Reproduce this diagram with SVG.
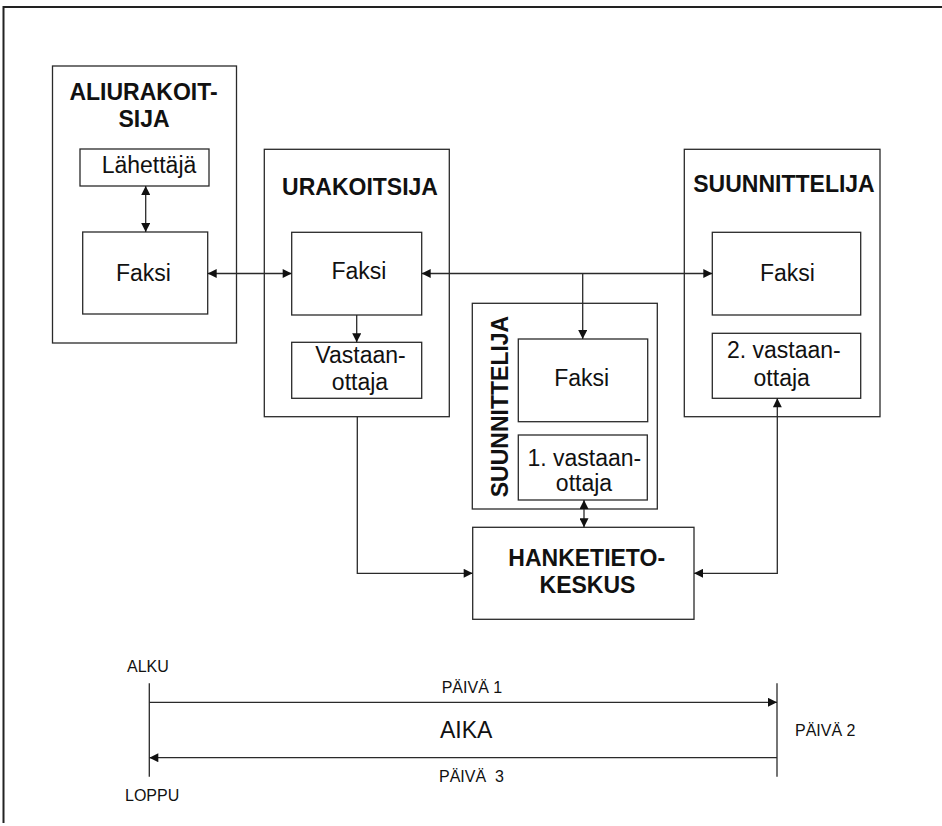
<svg xmlns="http://www.w3.org/2000/svg" width="942" height="826" viewBox="0 0 942 826">
<style>
.box{fill:#fff;stroke:#2a2a2a;stroke-width:1.3}
.ln{fill:none;stroke:#2a2a2a;stroke-width:1.3}
.t{font-family:"Liberation Sans",Arial,sans-serif;font-size:23px;fill:#111;text-anchor:middle}
.b{font-weight:bold}
.s{font-family:"Liberation Sans",Arial,sans-serif;font-size:16px;fill:#111}
</style>
<defs>
<marker id="ae" viewBox="0 0 10 10" refX="10" refY="5" markerWidth="10" markerHeight="9" markerUnits="userSpaceOnUse" orient="auto">
<path d="M0,0 L10,5 L0,10 z" fill="#111"/>
</marker>
<marker id="as" viewBox="0 0 10 10" refX="0" refY="5" markerWidth="10" markerHeight="9" markerUnits="userSpaceOnUse" orient="auto">
<path d="M10,0 L0,5 L10,10 z" fill="#111"/>
</marker>
</defs>
<path d="M3.5 823 V7 H942" fill="none" stroke="#222" stroke-width="2"/>
<g id="aliurakoitsija">
<rect class="box" x="52.5" y="66" width="184" height="277"/>
<text class="t b" x="143.5" y="100">ALIURAKOIT-</text>
<text class="t b" x="144" y="127">SIJA</text>
</g>
<g id="ali-lahettaja">
<rect class="box" x="80" y="149" width="129" height="37"/>
<text class="t" x="149" y="173">Lähettäjä</text>
</g>
<g id="ali-faksi">
<rect class="box" x="82.7" y="232" width="125" height="82"/>
<text class="t" x="143.5" y="280.5">Faksi</text>
</g>
<g id="urakoitsija">
<rect class="box" x="264.3" y="149.3" width="185" height="267.4"/>
<text class="t b" x="360" y="195">URAKOITSIJA</text>
</g>
<g id="ura-faksi">
<rect class="box" x="291.7" y="232.3" width="130" height="82.7"/>
<text class="t" x="359" y="278.5">Faksi</text>
</g>
<g id="ura-vastaanottaja">
<rect class="box" x="291.7" y="342.3" width="130" height="56"/>
<text class="t" x="360.5" y="363.3">Vastaan-</text>
<text class="t" x="360" y="390">ottaja</text>
</g>
<g id="suunnittelija-1">
<rect class="box" x="472.3" y="303.3" width="185" height="205.7"/>
<text class="t b" transform="translate(508 406.5) rotate(-90)" x="0" y="0">SUUNNITTELIJA</text>
</g>
<g id="s1-faksi">
<rect class="box" x="518.3" y="339" width="129.4" height="82.7"/>
<text class="t" x="581.7" y="386">Faksi</text>
</g>
<g id="s1-vastaanottaja">
<rect class="box" x="518.3" y="435" width="129" height="65"/>
<text class="t" x="584.3" y="466">1. vastaan-</text>
<text class="t" x="584" y="491">ottaja</text>
</g>
<g id="suunnittelija-2">
<rect class="box" x="684.3" y="149.3" width="195.7" height="267.4"/>
<text class="t b" x="784" y="192">SUUNNITTELIJA</text>
</g>
<g id="s2-faksi">
<rect class="box" x="712.3" y="232.3" width="148.4" height="82.7"/>
<text class="t" x="787.5" y="280.7">Faksi</text>
</g>
<g id="s2-vastaanottaja">
<rect class="box" x="712.3" y="333.3" width="148.4" height="65"/>
<text class="t" x="783.8" y="358.3">2. vastaan-</text>
<text class="t" x="781.7" y="386">ottaja</text>
</g>
<g id="hanketietokeskus">
<rect class="box" x="472.7" y="527.3" width="221.3" height="92"/>
<text class="t b" x="586.7" y="565.7">HANKETIETO-</text>
<text class="t b" x="587.5" y="592.7">KESKUS</text>
</g>
<g id="connectors">
<line class="ln" x1="145.7" y1="186" x2="145.7" y2="232" marker-start="url(#as)" marker-end="url(#ae)"/>
<line class="ln" x1="207.7" y1="273.5" x2="291.7" y2="273.5" marker-start="url(#as)" marker-end="url(#ae)"/>
<line class="ln" x1="421.7" y1="273.5" x2="712.3" y2="273.5" marker-start="url(#as)" marker-end="url(#ae)"/>
<line class="ln" x1="582.7" y1="273.5" x2="582.7" y2="339" marker-end="url(#ae)"/>
<line class="ln" x1="356.7" y1="315" x2="356.7" y2="342.3" marker-end="url(#ae)"/>
<line class="ln" x1="584" y1="500" x2="584" y2="527.3" marker-start="url(#as)" marker-end="url(#ae)"/>
<path class="ln" d="M357.3 416.7 V573.3 H472.7" marker-end="url(#ae)"/>
<path class="ln" d="M694 573.3 H777.3 V398.3" marker-start="url(#as)" marker-end="url(#ae)"/>
</g>
<g id="timeline">
<line class="ln" x1="149.3" y1="683.3" x2="149.3" y2="776.7"/>
<line class="ln" x1="777" y1="683.3" x2="777" y2="776.7"/>
<line class="ln" x1="149.3" y1="702.3" x2="777" y2="702.3" marker-end="url(#ae)"/>
<line class="ln" x1="777" y1="757.7" x2="149.3" y2="757.7" marker-end="url(#ae)"/>
<text class="s" x="127" y="671.7">ALKU</text>
<text class="s" x="125" y="800.7">LOPPU</text>
<text class="s" x="441.7" y="693.3">PÄIVÄ 1</text>
<text class="s" x="439" y="782.3" xml:space="preserve">PÄIVÄ  3</text>
<text class="s" x="795" y="736">PÄIVÄ 2</text>
<text class="s" x="440" y="738.3" style="font-size:23px">AIKA</text>
</g>
</svg>
